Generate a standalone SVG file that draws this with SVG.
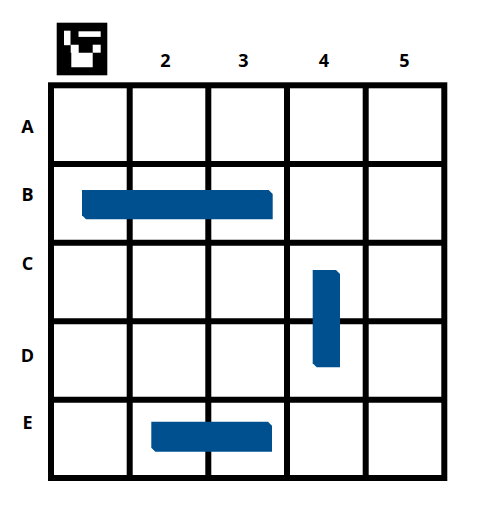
<svg xmlns="http://www.w3.org/2000/svg" width="483" height="516" viewBox="0 0 483 516">
  <style>
    .lbl { font-family: "Open Sans", "Liberation Sans", sans-serif; font-weight: 700; font-size: 18px; fill: #000; }
    .grid { fill: none; stroke: #000; stroke-width: 6; }
    .bar { fill: #00508F; }
  </style>
  <rect width="483" height="516" fill="#fff"/>
  <g id="icon">
    <rect x="56.7" y="22.7" width="50.6" height="52.6" fill="#000"/>
    <rect x="64" y="30.7" width="6.5" height="14.5" fill="#fff"/>
    <rect x="78.5" y="31.3" width="22.2" height="5.6" fill="#fff"/>
    <rect x="92.7" y="44.7" width="8" height="8" fill="#fff"/>
    <path d="M70.7 44.7 H78.7 V52.7 H92.7 V67.3 H71.3 V52.7 H70.7 Z" fill="#fff"/>
  </g>
  <g id="grid">
    <rect class="grid" x="51" y="85.3" width="393.3" height="392.7"/>
    <path class="grid" d="M129.7 85.3 V478 M208.3 85.3 V478 M287 85.3 V478 M365.7 85.3 V478 M51 164 H444.3 M51 242.7 H444.3 M51 321.3 H444.3 M51 399.7 H444.3"/>
  </g>
  <g id="col-labels">
    <text class="lbl" x="165.3" y="66.7" text-anchor="middle">2</text>
    <text class="lbl" x="243.3" y="66.7" text-anchor="middle">3</text>
    <text class="lbl" x="324" y="66.7" text-anchor="middle">4</text>
    <text class="lbl" x="404.3" y="66.7" text-anchor="middle">5</text>
  </g>
  <g id="row-labels">
    <text class="lbl" x="27.5" y="132.5" text-anchor="middle">A</text>
    <text class="lbl" x="27.5" y="200.7" text-anchor="middle">B</text>
    <text class="lbl" x="27.5" y="270" text-anchor="middle">C</text>
    <text class="lbl" x="27.5" y="362" text-anchor="middle">D</text>
    <text class="lbl" x="27.5" y="428.7" text-anchor="middle">E</text>
  </g>
  <g id="bar-B">
    <path class="bar" d="M82 190 H268.7 L272.7 194 V219.3 H86 L82 215.3 Z"/>
  </g>
  <g id="bar-CD">
    <path class="bar" d="M312.7 270 H336 L340 274 V367.3 H316.7 L312.7 363.3 Z"/>
  </g>
  <g id="bar-E">
    <path class="bar" d="M151.3 421.7 H268 L272 425.7 V451.7 H155.3 L151.3 447.7 Z"/>
  </g>
  <g id="connectors"></g>
</svg>
